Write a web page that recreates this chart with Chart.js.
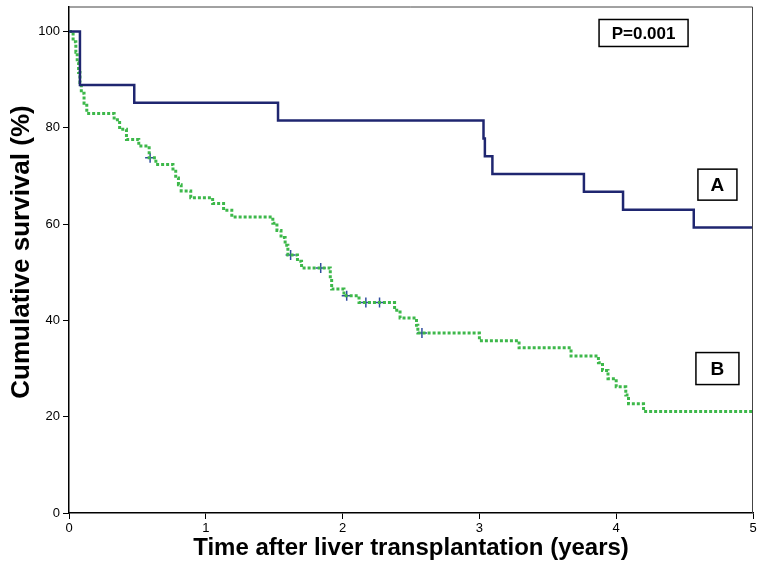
<!DOCTYPE html>
<html>
<head>
<meta charset="utf-8">
<script src="https://cdn.jsdelivr.net/npm/chart.js@4/dist/chart.umd.min.js"></script>
<style>
html,body{margin:0;padding:0;background:#fff;}
#wrap{width:760px;height:579px;}
</style>
</head>
<body>
<div id="wrap"><canvas id="c" width="760" height="579"></canvas></div>
<script>
// Group A (solid navy)
const timesA = [0, 0.08, 0.477, 1.528, 3.03, 3.04, 3.095, 3.764, 4.05, 4.567, 5];
const survA  = [100, 88.9, 85.2, 81.5, 77.8, 74.1, 70.4, 66.7, 63.0, 59.3, 59.3];
// Group B (dotted green)
const timesB = [0, 0.03, 0.05, 0.06, 0.07, 0.08, 0.09, 0.11, 0.13, 0.33, 0.37, 0.42, 0.51, 0.586, 0.635,
  0.76, 0.78, 0.80, 0.82, 0.89, 1.05, 1.13, 1.19, 1.49, 1.52, 1.55, 1.58, 1.60, 1.67, 1.70,
  1.91, 1.92, 2.01, 2.12, 2.38, 2.42, 2.54, 2.55, 3.0, 3.29, 3.67, 3.87, 3.90, 3.94, 4.0, 4.07, 4.09, 4.20, 5];
const survB  = [100, 97.9, 95.7, 93.6, 91.5, 89.4, 87.2, 85.1, 83.0, 81.7, 79.7, 77.6, 76.2, 73.8, 72.4,
  71.0, 69.6, 68.2, 66.9, 65.5, 64.3, 62.9, 61.5, 60.2, 58.7, 57.2, 55.6, 53.6, 52.3, 50.9,
  48.7, 46.5, 45.1, 43.7, 42.1, 40.5, 39.0, 37.4, 35.8, 34.3, 32.6, 31.2, 29.6, 27.9, 26.2, 24.5, 22.7, 21.1, 21.1];
// Censored observations (group B)
const censorTimes = [0.593, 1.62, 1.84, 2.03, 2.17, 2.27, 2.58];
const censorSurv  = [73.8, 53.6, 50.9, 45.1, 43.7, 43.7, 37.4];
// Axis ticks
const xTicks = [0, 1, 2, 3, 4, 5];
const yTicks = [0, 20, 40, 60, 80, 100];
// Text
const labelA = 'A', labelB = 'B', pText = 'P=0.001';
const yTitle = 'Cumulative survival (%)';
const xTitle = 'Time after liver transplantation (years)';

const toXY = (xs, ys) => xs.map((x, i) => ({x: x, y: ys[i]}));

const boxPlugin = {
  id: 'boxes',
  afterDraw(chart) {
    const {ctx, chartArea: a, scales: {x, y}} = chart;
    ctx.save();
    ctx.strokeStyle = '#444';
    ctx.lineWidth = 1;
    ctx.beginPath();
    ctx.moveTo(a.left, a.top + 0.5);
    ctx.lineTo(a.right - 0.5, a.top + 0.5);
    ctx.lineTo(a.right - 0.5, a.bottom);
    ctx.stroke();
    const box = (tx, vy, w, h, text, font) => {
      const cx = x.getPixelForValue(tx), cy = y.getPixelForValue(vy);
      ctx.fillStyle = '#fff';
      ctx.fillRect(cx - w / 2, cy - h / 2, w, h);
      ctx.strokeStyle = '#000';
      ctx.lineWidth = 1.5;
      ctx.strokeRect(cx - w / 2, cy - h / 2, w, h);
      ctx.fillStyle = '#000';
      ctx.font = font;
      ctx.textAlign = 'center';
      ctx.textBaseline = 'middle';
      ctx.fillText(text, cx, cy + 1);
    };
    box(4.20, 99.7, 89, 27, pText, 'bold 17px "Liberation Sans", Arial, sans-serif');
    box(4.74, 68.2, 39, 31, labelA, 'bold 19px "Liberation Sans", Arial, sans-serif');
    box(4.74, 30.0, 43, 32, labelB, 'bold 19px "Liberation Sans", Arial, sans-serif');
    // y-axis title (rotated)
    ctx.translate(22, 252);
    ctx.rotate(-Math.PI / 2);
    ctx.font = 'bold 26px "Liberation Sans", Arial, sans-serif';
    ctx.fillStyle = '#000';
    ctx.textAlign = 'center';
    ctx.textBaseline = 'middle';
    ctx.fillText(yTitle, 0, 0);
    ctx.restore();
  }
};

new Chart(document.getElementById('c'), {
  type: 'line',
  data: {
    datasets: [
      {
        label: 'A',
        data: toXY(timesA, survA),
        stepped: true,
        borderColor: '#1F2670',
        borderWidth: 2.5,
        pointRadius: 0,
        fill: false
      },
      {
        label: 'B',
        data: toXY(timesB, survB),
        stepped: true,
        borderColor: '#3DB84A',
        borderWidth: 3,
        borderDash: [3, 2],
        pointRadius: 0,
        fill: false
      },
      {
        label: 'Censored',
        type: 'scatter',
        data: toXY(censorTimes, censorSurv),
        showLine: false,
        pointStyle: 'cross',
        pointRadius: 5,
        borderColor: '#2F4C9E',
        borderWidth: 1.5,
        backgroundColor: '#2F4C9E'
      }
    ]
  },
  options: {
    responsive: false,
    animation: false,
    layout: {padding: {top: 5, right: 7, left: 0, bottom: 0}},
    plugins: {legend: {display: false}, tooltip: {enabled: false}},
    scales: {
      x: {
        type: 'linear',
        min: 0, max: 5,
        afterBuildTicks: s => { s.ticks = xTicks.map(v => ({value: v})); },
        afterFit: s => { s.height = 66; s.paddingLeft = 0; s.paddingRight = 0; },
        grid: {drawOnChartArea: false, drawTicks: true, tickLength: 6, color: '#000'},
        border: {color: '#000', width: 1.5},
        ticks: {color: '#000', font: {family: '"Liberation Sans", Arial, sans-serif', size: 13}, padding: 2, maxRotation: 0},
        title: {display: true, text: xTitle, color: '#000',
          font: {family: '"Liberation Sans", Arial, sans-serif', size: 24, weight: 'bold'}, padding: {top: 0, bottom: 16}}
      },
      y: {
        min: 0, max: 105.2,
        afterBuildTicks: s => { s.ticks = yTicks.map(v => ({value: v})); },
        afterFit: s => { s.width = 69; s.paddingTop = 0; s.paddingBottom = 0; },
        grid: {drawOnChartArea: false, drawTicks: true, tickLength: 6, color: '#000'},
        border: {color: '#000', width: 1.5},
        ticks: {color: '#000', font: {family: '"Liberation Sans", Arial, sans-serif', size: 13}, padding: 3},
        title: {display: false, text: yTitle}
      }
    }
  },
  plugins: [boxPlugin]
});
</script>
</body>
</html>
